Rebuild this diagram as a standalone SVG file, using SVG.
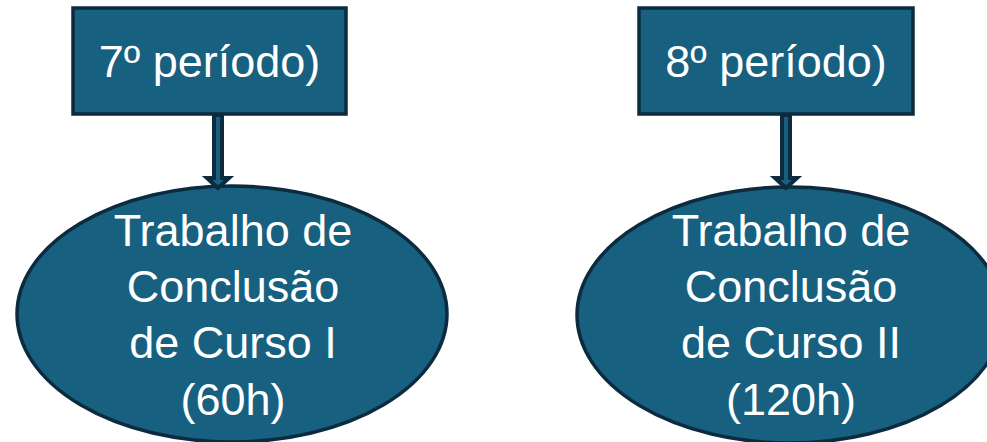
<svg xmlns="http://www.w3.org/2000/svg" width="987" height="442" viewBox="0 0 987 442">
<style>
.shape{fill:#17607f;stroke:#0c2b3e;stroke-width:3.5}
.lbl{font-family:"Liberation Sans","Open Sans",Arial,sans-serif;font-size:45px;fill:#ffffff;text-anchor:middle}
.arrow{fill:#17607f;stroke:#0c2b3e;stroke-width:4;stroke-linejoin:miter}
</style>
<rect width="987" height="442" fill="#ffffff"/>
<g id="box7">
<rect class="shape" x="73" y="8" width="273" height="106"/>
<text class="lbl" x="209.5" y="77">7º período)</text>
</g>
<g id="box8">
<rect class="shape" x="639" y="8" width="274" height="106"/>
<text class="lbl" x="776" y="77">8º período)</text>
</g>
<g id="tcc1">
<ellipse class="shape" cx="232" cy="314" rx="215" ry="128"/>
<text class="lbl" x="233" y="246">Trabalho de</text>
<text class="lbl" x="233" y="302">Conclusão</text>
<text class="lbl" x="233" y="358">de Curso I</text>
<text class="lbl" x="233" y="415">(60h)</text>
</g>
<g id="tcc2">
<ellipse class="shape" cx="790" cy="315" rx="213" ry="128"/>
<text class="lbl" x="791" y="246">Trabalho de</text>
<text class="lbl" x="791" y="302">Conclusão</text>
<text class="lbl" x="791" y="358">de Curso II</text>
<text class="lbl" x="791" y="415">(120h)</text>
</g>
<g id="connectors">
<path class="arrow" d="M214,115 L214,178 L207,178 L218,188 L229,178 L222,178 L222,115 Z"/>
<path class="arrow" d="M782,115 L782,178 L775,178 L786,188 L797,178 L790,178 L790,115 Z"/>
</g>
</svg>
